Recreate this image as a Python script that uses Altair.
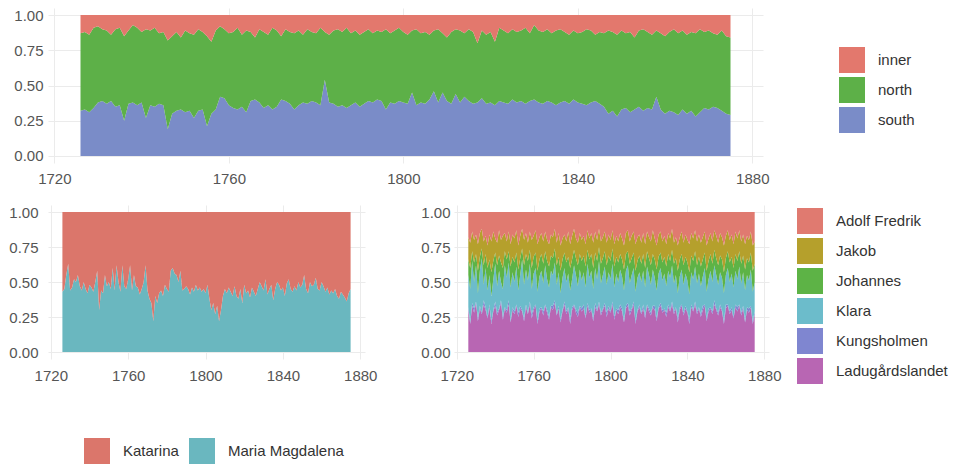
import altair as alt
import pandas as pd

years = list(range(1726, 1876))

# ---- top panel: regions (upper boundaries of stacked shares) ----
south = [
    0.32, 0.33, 0.31, 0.34, 0.38, 0.39, 0.37, 0.39, 0.35, 0.36,
    0.25, 0.37, 0.38, 0.36, 0.38, 0.27, 0.36, 0.35, 0.37, 0.36,
    0.19, 0.30, 0.32, 0.33, 0.31, 0.32, 0.27, 0.32, 0.33, 0.21,
    0.30, 0.33, 0.42, 0.41, 0.36, 0.34, 0.33, 0.35, 0.31, 0.39,
    0.40, 0.38, 0.34, 0.36, 0.33, 0.35, 0.40, 0.39, 0.37, 0.33,
    0.36, 0.38, 0.37, 0.39, 0.38, 0.36, 0.54, 0.38, 0.37, 0.35,
    0.36, 0.34, 0.36, 0.38, 0.35, 0.37, 0.39, 0.38, 0.40, 0.39,
    0.33, 0.38, 0.37, 0.39, 0.38, 0.37, 0.45, 0.36, 0.38, 0.37,
    0.40, 0.46, 0.38, 0.45, 0.39, 0.37, 0.44, 0.38, 0.42, 0.39,
    0.37, 0.38, 0.41, 0.37, 0.38, 0.36, 0.39, 0.38, 0.37, 0.40,
    0.38, 0.39, 0.37, 0.39, 0.40, 0.38, 0.37, 0.39, 0.38, 0.36,
    0.38, 0.39, 0.37, 0.40, 0.38, 0.37, 0.36, 0.38, 0.39, 0.37,
    0.35, 0.30, 0.32, 0.28, 0.33, 0.34, 0.31, 0.33, 0.35, 0.32,
    0.34, 0.33, 0.42, 0.33, 0.30, 0.32, 0.31, 0.29, 0.33, 0.30,
    0.32, 0.28, 0.31, 0.34, 0.33, 0.35, 0.34, 0.32, 0.30, 0.29,
]
north_top = [
    0.87, 0.88, 0.86, 0.91, 0.92, 0.90, 0.89, 0.86, 0.90, 0.91,
    0.85, 0.89, 0.93, 0.91, 0.88, 0.90, 0.89, 0.91, 0.87, 0.88,
    0.82, 0.85, 0.88, 0.84, 0.89, 0.87, 0.86, 0.90, 0.88, 0.85,
    0.81, 0.89, 0.92, 0.90, 0.87, 0.88, 0.91, 0.86, 0.89, 0.88,
    0.84, 0.90, 0.88, 0.86, 0.91, 0.89, 0.85, 0.90, 0.88, 0.87,
    0.89, 0.86, 0.90, 0.88, 0.87, 0.91, 0.88, 0.86, 0.89, 0.90,
    0.88, 0.91, 0.87, 0.89, 0.86, 0.88, 0.90, 0.87, 0.89, 0.88,
    0.90, 0.87, 0.89, 0.91, 0.88, 0.86, 0.89, 0.90, 0.87, 0.88,
    0.86, 0.89, 0.90, 0.87, 0.84, 0.88, 0.90, 0.89, 0.87, 0.90,
    0.88, 0.80, 0.89, 0.86, 0.88, 0.81, 0.91, 0.89, 0.87, 0.90,
    0.88, 0.89, 0.91, 0.87, 0.93, 0.89, 0.88, 0.90, 0.87, 0.89,
    0.90, 0.88, 0.86, 0.89, 0.87, 0.88, 0.90, 0.89, 0.86, 0.88,
    0.87, 0.89, 0.88, 0.86, 0.89, 0.87, 0.88, 0.84, 0.89, 0.90,
    0.88, 0.86, 0.89, 0.87, 0.85, 0.88, 0.90, 0.87, 0.89, 0.86,
    0.88, 0.87, 0.90, 0.88, 0.89, 0.87, 0.86, 0.89, 0.85, 0.84,
]

# ---- bottom-left panel: Maria Magdalena share (rest Katarina) ----
maria_magdalena = [
    0.43, 0.45, 0.55, 0.63, 0.44, 0.46, 0.52, 0.50, 0.55, 0.47,
    0.44, 0.50, 0.45, 0.42, 0.48, 0.46, 0.43, 0.50, 0.58, 0.30,
    0.44, 0.42, 0.55, 0.47, 0.50, 0.45, 0.60, 0.44, 0.62, 0.50,
    0.43, 0.62, 0.47, 0.45, 0.52, 0.62, 0.44, 0.55, 0.47, 0.46,
    0.41, 0.45, 0.50, 0.62, 0.44, 0.38, 0.35, 0.22, 0.40, 0.35,
    0.42, 0.44, 0.40, 0.48, 0.45, 0.43, 0.58, 0.60, 0.56, 0.55,
    0.50, 0.58, 0.44, 0.45, 0.47, 0.45, 0.41, 0.46, 0.43, 0.48,
    0.44, 0.46, 0.43, 0.45, 0.42, 0.48, 0.38, 0.30, 0.35, 0.27,
    0.33, 0.22, 0.30, 0.40, 0.45, 0.42, 0.46, 0.43, 0.40, 0.47,
    0.40, 0.38, 0.45, 0.35, 0.48, 0.42, 0.44, 0.39, 0.46, 0.43,
    0.40, 0.45, 0.50, 0.47, 0.44, 0.52, 0.41, 0.45, 0.48, 0.37,
    0.45, 0.50, 0.48, 0.44, 0.46, 0.40, 0.49, 0.52, 0.45, 0.43,
    0.47, 0.44, 0.50, 0.46, 0.48, 0.55, 0.45, 0.42, 0.50, 0.47,
    0.48, 0.53, 0.45, 0.44, 0.50, 0.47, 0.43, 0.46, 0.41, 0.44,
    0.42, 0.45, 0.40, 0.38, 0.43, 0.41, 0.39, 0.36, 0.42, 0.45,
]

# ---- bottom-right panel: northern parishes ----
ladugardslandet = [
    0.30, 0.20, 0.33, 0.28, 0.35, 0.22, 0.31, 0.27, 0.34, 0.30,
    0.24, 0.32, 0.20, 0.29, 0.33, 0.26, 0.30, 0.35, 0.23, 0.31,
    0.28, 0.34, 0.21, 0.30, 0.27, 0.33, 0.25, 0.31, 0.29, 0.22,
    0.32, 0.27, 0.34, 0.24, 0.30, 0.33, 0.20, 0.29, 0.31, 0.26,
    0.33, 0.28, 0.23, 0.32, 0.30, 0.35, 0.26, 0.31, 0.21, 0.29,
    0.34, 0.27, 0.31, 0.20, 0.30, 0.33, 0.28, 0.25, 0.32, 0.29,
    0.31, 0.24, 0.33, 0.28, 0.30, 0.22, 0.32, 0.29, 0.34, 0.26,
    0.30, 0.33, 0.25, 0.31, 0.28, 0.34, 0.23, 0.30, 0.27, 0.32,
    0.29, 0.21, 0.31, 0.33, 0.26, 0.30, 0.34, 0.20, 0.29, 0.32,
    0.27, 0.31, 0.24, 0.33, 0.29, 0.26, 0.32, 0.30, 0.22, 0.31,
    0.33, 0.28, 0.30, 0.25, 0.32, 0.29, 0.34, 0.27, 0.31, 0.21,
    0.30, 0.33, 0.26, 0.31, 0.28, 0.20, 0.32, 0.29, 0.34, 0.27,
    0.31, 0.25, 0.30, 0.33, 0.22, 0.29, 0.31, 0.27, 0.34, 0.30,
    0.26, 0.32, 0.29, 0.20, 0.31, 0.33, 0.27, 0.30, 0.24, 0.32,
    0.29, 0.33, 0.26, 0.31, 0.21, 0.30, 0.28, 0.32, 0.20, 0.27,
]
kungsholmen = [
    0.02, 0.01, 0.02, 0.03, 0.01, 0.02, 0.02, 0.01, 0.03, 0.02,
    0.01, 0.02, 0.02, 0.01, 0.03, 0.02, 0.01, 0.02, 0.02, 0.01,
    0.02, 0.03, 0.01, 0.02, 0.02, 0.01, 0.03, 0.02, 0.01, 0.02,
    0.02, 0.01, 0.02, 0.03, 0.02, 0.01, 0.02, 0.02, 0.01, 0.03,
    0.01, 0.02, 0.02, 0.01, 0.03, 0.02, 0.01, 0.02, 0.02, 0.01,
    0.02, 0.02, 0.01, 0.03, 0.02, 0.01, 0.02, 0.03, 0.01, 0.02,
    0.03, 0.01, 0.02, 0.02, 0.01, 0.02, 0.03, 0.01, 0.02, 0.02,
    0.01, 0.02, 0.03, 0.02, 0.01, 0.02, 0.02, 0.01, 0.03, 0.02,
    0.02, 0.01, 0.02, 0.02, 0.03, 0.01, 0.02, 0.02, 0.01, 0.02,
    0.01, 0.03, 0.02, 0.01, 0.02, 0.02, 0.01, 0.03, 0.02, 0.01,
    0.02, 0.02, 0.01, 0.03, 0.02, 0.01, 0.02, 0.02, 0.01, 0.03,
    0.02, 0.01, 0.02, 0.02, 0.01, 0.03, 0.02, 0.01, 0.02, 0.02,
    0.01, 0.02, 0.03, 0.01, 0.02, 0.02, 0.01, 0.02, 0.03, 0.01,
    0.02, 0.02, 0.01, 0.02, 0.03, 0.01, 0.02, 0.02, 0.01, 0.02,
    0.03, 0.01, 0.02, 0.02, 0.01, 0.02, 0.03, 0.01, 0.02, 0.02,
]
klara_top = [
    0.55, 0.45, 0.65, 0.50, 0.62, 0.42, 0.58, 0.67, 0.48, 0.60,
    0.44, 0.55, 0.40, 0.52, 0.63, 0.47, 0.58, 0.50, 0.45, 0.62,
    0.53, 0.64, 0.46, 0.57, 0.50, 0.61, 0.44, 0.55, 0.66, 0.48,
    0.59, 0.51, 0.63, 0.45, 0.56, 0.60, 0.43, 0.54, 0.58, 0.49,
    0.62, 0.52, 0.46, 0.58, 0.55, 0.64, 0.48, 0.57, 0.42, 0.53,
    0.60, 0.50, 0.56, 0.44, 0.52, 0.62, 0.55, 0.47, 0.59, 0.51,
    0.57, 0.46, 0.63, 0.53, 0.58, 0.45, 0.60, 0.52, 0.65, 0.49,
    0.55, 0.61, 0.48, 0.57, 0.52, 0.63, 0.46, 0.56, 0.50, 0.59,
    0.54, 0.44, 0.58, 0.62, 0.49, 0.55, 0.60, 0.43, 0.53, 0.57,
    0.50, 0.58, 0.46, 0.61, 0.55, 0.48, 0.59, 0.53, 0.44, 0.56,
    0.60, 0.51, 0.56, 0.47, 0.58, 0.53, 0.62, 0.49, 0.55, 0.42,
    0.54, 0.59, 0.48, 0.56, 0.51, 0.41, 0.57, 0.52, 0.61, 0.49,
    0.56, 0.47, 0.54, 0.60, 0.43, 0.52, 0.58, 0.50, 0.62, 0.55,
    0.48, 0.57, 0.53, 0.42, 0.55, 0.60, 0.50, 0.56, 0.46, 0.58,
    0.52, 0.61, 0.49, 0.57, 0.44, 0.55, 0.51, 0.59, 0.43, 0.50,
]
johannes_top = [
    0.66, 0.60, 0.72, 0.64, 0.70, 0.58, 0.68, 0.74, 0.62, 0.70,
    0.60, 0.66, 0.57, 0.65, 0.71, 0.62, 0.69, 0.64, 0.60, 0.72,
    0.66, 0.72, 0.61, 0.68, 0.64, 0.71, 0.59, 0.67, 0.74, 0.62,
    0.70, 0.65, 0.73, 0.60, 0.68, 0.71, 0.58, 0.66, 0.70, 0.63,
    0.72, 0.65, 0.61, 0.69, 0.67, 0.74, 0.62, 0.68, 0.58, 0.66,
    0.71, 0.64, 0.68, 0.60, 0.66, 0.73, 0.67, 0.62, 0.70, 0.65,
    0.69, 0.61, 0.73, 0.66, 0.70, 0.60, 0.71, 0.65, 0.75, 0.63,
    0.67, 0.72, 0.62, 0.69, 0.65, 0.74, 0.61, 0.68, 0.64, 0.70,
    0.66, 0.59, 0.70, 0.72, 0.63, 0.67, 0.71, 0.58, 0.65, 0.69,
    0.63, 0.70, 0.60, 0.72, 0.67, 0.62, 0.70, 0.66, 0.59, 0.68,
    0.71, 0.64, 0.68, 0.61, 0.70, 0.65, 0.73, 0.63, 0.67, 0.58,
    0.66, 0.70, 0.62, 0.68, 0.64, 0.57, 0.69, 0.65, 0.72, 0.62,
    0.68, 0.61, 0.66, 0.71, 0.58, 0.65, 0.70, 0.63, 0.73, 0.67,
    0.62, 0.69, 0.66, 0.57, 0.67, 0.72, 0.64, 0.68, 0.60, 0.70,
    0.65, 0.72, 0.63, 0.69, 0.59, 0.67, 0.64, 0.71, 0.58, 0.63,
]
jakob_top = [
    0.82, 0.78, 0.86, 0.80, 0.84, 0.77, 0.85, 0.88, 0.79, 0.83,
    0.76, 0.84, 0.79, 0.86, 0.81, 0.78, 0.87, 0.80, 0.83, 0.85,
    0.79, 0.86, 0.77, 0.84, 0.81, 0.87, 0.76, 0.83, 0.88, 0.80,
    0.85, 0.78, 0.86, 0.80, 0.83, 0.87, 0.77, 0.82, 0.85, 0.79,
    0.86, 0.80, 0.77, 0.84, 0.82, 0.88, 0.78, 0.85, 0.76, 0.81,
    0.84, 0.79, 0.86, 0.77, 0.83, 0.88, 0.81, 0.78, 0.85, 0.80,
    0.83, 0.77, 0.87, 0.81, 0.85, 0.78, 0.86, 0.80, 0.88, 0.79,
    0.82, 0.86, 0.78, 0.84, 0.80, 0.87, 0.77, 0.83, 0.79, 0.85,
    0.81, 0.76, 0.85, 0.87, 0.79, 0.83, 0.86, 0.77, 0.82, 0.84,
    0.78, 0.85, 0.77, 0.86, 0.82, 0.79, 0.87, 0.81, 0.76, 0.84,
    0.86, 0.79, 0.83, 0.77, 0.85, 0.81, 0.88, 0.78, 0.82, 0.76,
    0.82, 0.86, 0.78, 0.84, 0.80, 0.77, 0.85, 0.81, 0.87, 0.79,
    0.84, 0.78, 0.82, 0.86, 0.76, 0.81, 0.85, 0.79, 0.87, 0.83,
    0.78, 0.85, 0.82, 0.76, 0.83, 0.87, 0.80, 0.84, 0.77, 0.86,
    0.81, 0.87, 0.79, 0.84, 0.77, 0.83, 0.80, 0.86, 0.76, 0.79,
]

top_names = ["inner", "north", "south"]
top_colors = ["#E3786D", "#5DB048", "#7A8CC8"]
bl_names = ["Katarina", "Maria Magdalena"]
bl_colors = ["#DB766B", "#6AB7BF"]
br_names = ["Adolf Fredrik", "Jakob", "Johannes", "Klara", "Kungsholmen", "Ladugårdslandet"]
br_colors = ["#E07A70", "#B5A02C", "#5DB346", "#6CBCCB", "#7F86D0", "#B866B3"]

x_ticks = [1720, 1760, 1800, 1840, 1880]
y_ticks = [0, 0.25, 0.5, 0.75, 1.0]
x_domain = [1718.55, 1882.45]
y_domain = [-0.05, 1.05]

# build long tables of bands (lower/upper edges)
top_rows = []
for i, yr in enumerate(years):
    top_rows.append({"year": yr, "group": "south", "lo": 0.0, "hi": south[i]})
    top_rows.append({"year": yr, "group": "north", "lo": south[i], "hi": north_top[i]})
    top_rows.append({"year": yr, "group": "inner", "lo": north_top[i], "hi": 1.0})
top_df = pd.DataFrame(top_rows)

bl_rows = []
for i, yr in enumerate(years):
    bl_rows.append({"year": yr, "group": "Maria Magdalena", "lo": 0.0, "hi": maria_magdalena[i]})
    bl_rows.append({"year": yr, "group": "Katarina", "lo": maria_magdalena[i], "hi": 1.0})
bl_df = pd.DataFrame(bl_rows)

br_rows = []
for i, yr in enumerate(years):
    k_top = ladugardslandet[i] + kungsholmen[i]
    br_rows.append({"year": yr, "group": "Ladugårdslandet", "lo": 0.0, "hi": ladugardslandet[i]})
    br_rows.append({"year": yr, "group": "Kungsholmen", "lo": ladugardslandet[i], "hi": k_top})
    br_rows.append({"year": yr, "group": "Klara", "lo": k_top, "hi": klara_top[i]})
    br_rows.append({"year": yr, "group": "Johannes", "lo": klara_top[i], "hi": johannes_top[i]})
    br_rows.append({"year": yr, "group": "Jakob", "lo": johannes_top[i], "hi": jakob_top[i]})
    br_rows.append({"year": yr, "group": "Adolf Fredrik", "lo": jakob_top[i], "hi": 1.0})
br_df = pd.DataFrame(br_rows)


def panel(df, names, colors, width, height, legend, ypad, xpad):
    return alt.Chart(df).mark_area(interpolate="linear").encode(
        x=alt.X("year:Q", title=None,
                scale=alt.Scale(domain=x_domain, nice=False, zero=False),
                axis=alt.Axis(values=x_ticks, format="d", labelPadding=xpad)),
        y=alt.Y("hi:Q", title=None,
                scale=alt.Scale(domain=y_domain, nice=False, zero=False),
                axis=alt.Axis(values=y_ticks, format=".2f", labelPadding=ypad)),
        y2="lo:Q",
        color=alt.Color("group:N", scale=alt.Scale(domain=names, range=colors),
                        sort=names, legend=legend),
        detail="group:N",
    ).properties(width=width, height=height)


top = panel(top_df, top_names, top_colors, 715, 155,
            alt.Legend(title=None, orient="none", legendX=791, legendY=39,
                       direction="vertical"), 5, 8)
bl = panel(bl_df, bl_names, bl_colors, 317, 154,
           alt.Legend(title=None, orient="none", legendX=36, legendY=233,
                      direction="horizontal", columnPadding=10), 10, 9)
br = panel(br_df, br_names, br_colors, 315, 154,
           alt.Legend(title=None, orient="none", legendX=343, legendY=3,
                      direction="vertical"), 4, 9)

bottom = alt.hconcat(bl, br, spacing=43).resolve_scale(color="independent")
chart = alt.vconcat(top, bottom, spacing=19).resolve_scale(color="independent").properties(
    padding={"left": 0, "top": 0, "right": 0, "bottom": 0}
).configure_view(
    stroke=None
).configure_axis(
    labelFont="Liberation Sans", labelFontSize=15, labelColor="#555555",
    domain=False, ticks=False,
    gridColor="#EBEBEB", gridWidth=1,
).configure_legend(
    symbolType="square", symbolSize=676, symbolStrokeWidth=0, symbolOpacity=1,
    labelFont="Liberation Sans", labelFontSize=15, labelColor="#333333",
    labelOffset=13, rowPadding=4, padding=0,
)

chart.save("out.html", embed_options={"renderer": "svg", "actions": False})
